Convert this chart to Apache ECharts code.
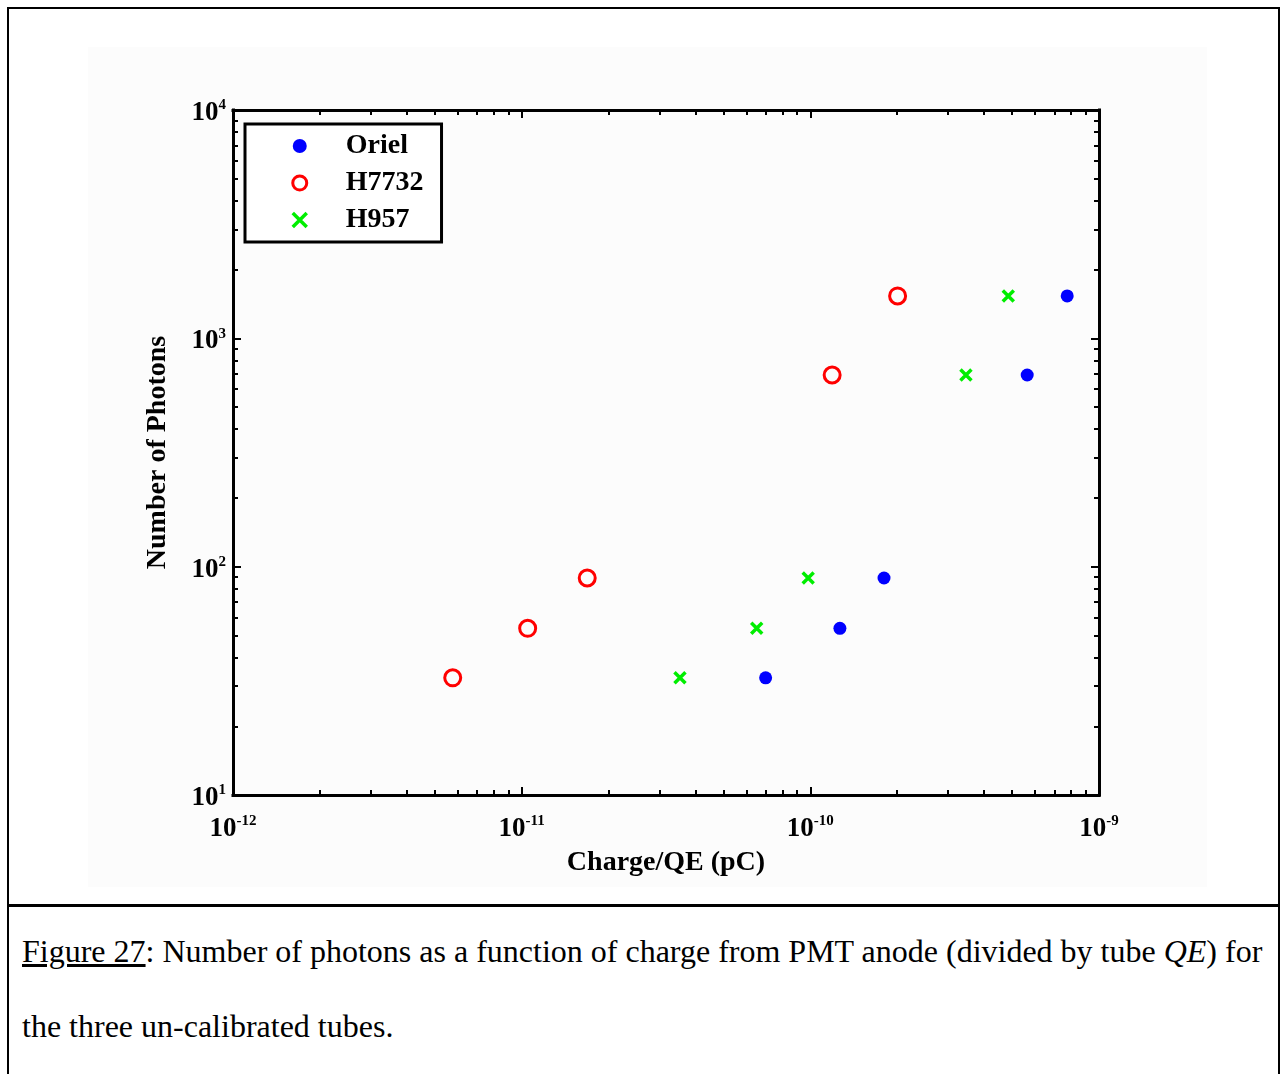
<!DOCTYPE html>
<html><head><meta charset="utf-8">
<script src="https://cdn.jsdelivr.net/npm/echarts@6/dist/echarts.min.js"></script>
<style>
html,body{margin:0;padding:0;background:#fff;width:1286px;height:1074px;overflow:hidden;}
#frame{position:absolute;left:7px;top:7px;width:1269px;height:1100px;border:2px solid #000;}
#sep{position:absolute;left:7px;top:904px;width:1273px;height:3px;background:#000;}
#chart{position:absolute;left:88px;top:47px;width:1119px;height:840px;background:#fcfcfc;}
.cap{position:absolute;left:22px;font-family:"Liberation Serif","Times New Roman",serif;font-size:32px;color:#000;white-space:nowrap;line-height:36px;}
</style></head>
<body>
<div id="frame"></div><div id="sep"></div>
<div id="chart"></div>
<div class="cap" style="top:933px"><u>Figure 27</u>: Number of photons as a function of charge from PMT anode (divided by tube <i>QE</i>) for</div>
<div class="cap" style="top:1008px">the three un-calibrated tubes.</div>
<script>
// ---- data ----
const seriesNames = ['Oriel', 'H7732', 'H957'];
const photons = [32.6, 53.7, 89.2, 691, 1533];
const orielCharge = [7.00e-11, 1.266e-10, 1.80e-10, 5.64e-10, 7.76e-10];
const h7732Charge = [5.77e-12, 1.049e-11, 1.687e-11, 1.19e-10, 2.006e-10];
const h957Charge = [3.535e-11, 6.52e-11, 9.83e-11, 3.46e-10, 4.85e-10];
const xTickValues = [1e-12, 1e-11, 1e-10, 1e-9];
const yTickValues = [1e1, 1e2, 1e3, 1e4];

const FONT = "'Liberation Serif','Times New Roman',serif";

function minorOf(majors) {
  const out = [];
  for (let i = 0; i < majors.length - 1; i++) {
    for (let k = 2; k <= 9; k++) out.push(+(majors[i] * k).toPrecision(6));
  }
  return out;
}
const xMinor = minorOf(xTickValues);
const yMinor = minorOf(yTickValues);

function fmt(v) {
  const e = Math.round(Math.log10(v));
  return '{a|10}{b|' + e + '}';
}
const rich = {
  a: {fontFamily: FONT, fontSize: 27, fontWeight: 'bold', color: '#000', lineHeight: 30},
  b: {fontFamily: FONT, fontSize: 15, fontWeight: 'bold', color: '#000', lineHeight: 10, verticalAlign: 'top'}
};

function axis(dim, pos, isMajor, withLabels, extra) {
  const vals = dim === 'x' ? xTickValues : yTickValues;
  const o = {
    type: 'log', logBase: 10, position: pos,
    min: vals[0], max: vals[vals.length - 1],
    splitLine: {show: false},
    axisLine: {show: isMajor, lineStyle: {color: '#000', width: 3, cap: 'square'}},
    axisTick: {show: true, inside: true, length: isMajor ? 8 : 5, customValues: isMajor ? vals : (dim === 'x' ? xMinor : yMinor), lineStyle: {color: '#000', width: 2}},
    axisLabel: withLabels ? {show: true, customValues: vals, formatter: fmt, rich: rich,
      margin: dim === 'x' ? 19 : 7, padding: dim === 'x' ? 0 : [6, 0, 0, 0],
      showMinLabel: true, showMaxLabel: true} : {show: false},
    z: isMajor ? 5 : 4
  };
  return Object.assign(o, extra || {});
}

const chart = echarts.init(document.getElementById('chart'), null, {renderer: 'canvas'});
chart.setOption({
  animation: false,
  backgroundColor: 'transparent',
  grid: {left: 145, top: 63, right: 108, bottom: 92, outerBoundsMode: 'none'},
  legend: {
    orient: 'vertical', left: 157, top: 77,
    padding: [8, 18, 8, 46], borderColor: '#000', borderWidth: 3, backgroundColor: '#fff',
    itemWidth: 82, itemHeight: 14, itemGap: 9,
    textStyle: {fontFamily: FONT, fontSize: 28, fontWeight: 'bold', color: '#000', lineHeight: 28},
    data: [
      {name: seriesNames[0]},
      {name: seriesNames[1], itemStyle: {borderWidth: 3}},
      {name: seriesNames[2], itemStyle: {borderWidth: 3.5}}
    ]
  },
  xAxis: [
    axis('x', 'bottom', true, true, {
      name: 'Charge/QE (pC)', nameLocation: 'middle', nameGap: 54,
      nameTextStyle: {fontFamily: FONT, fontSize: 28, fontWeight: 'bold', color: '#000'}
    }),
    axis('x', 'bottom', false, false),
    axis('x', 'top', true, false),
    axis('x', 'top', false, false)
  ],
  yAxis: [
    axis('y', 'left', true, true, {
      name: 'Number of Photons', nameLocation: 'middle', nameGap: 61,
      nameTextStyle: {fontFamily: FONT, fontSize: 28, fontWeight: 'bold', color: '#000'}
    }),
    axis('y', 'left', false, false),
    axis('y', 'right', true, false),
    axis('y', 'right', false, false)
  ],
  series: [
    {name: seriesNames[0], type: 'scatter', xAxisIndex: 0, yAxisIndex: 0,
     data: orielCharge.map((x, i) => [x, photons[i]]),
     symbol: 'circle', symbolSize: 13, itemStyle: {color: '#0000ff', opacity: 1}},
    {name: seriesNames[1], type: 'scatter', xAxisIndex: 0, yAxisIndex: 0,
     data: h7732Charge.map((x, i) => [x, photons[i]]),
     symbol: 'circle', symbolSize: 16, itemStyle: {color: 'rgba(255,255,255,0)', borderColor: '#ff0000', borderWidth: 3, opacity: 1}},
    {name: seriesNames[2], type: 'scatter', xAxisIndex: 0, yAxisIndex: 0,
     data: h957Charge.map((x, i) => [x, photons[i]]),
     symbol: 'path://M0,0L10,10M0,10L10,0', symbolSize: 11, itemStyle: {color: '#00ee00', borderColor: '#00ee00', borderWidth: 3.5, opacity: 1}}
  ]
});
</script>
</body></html>
